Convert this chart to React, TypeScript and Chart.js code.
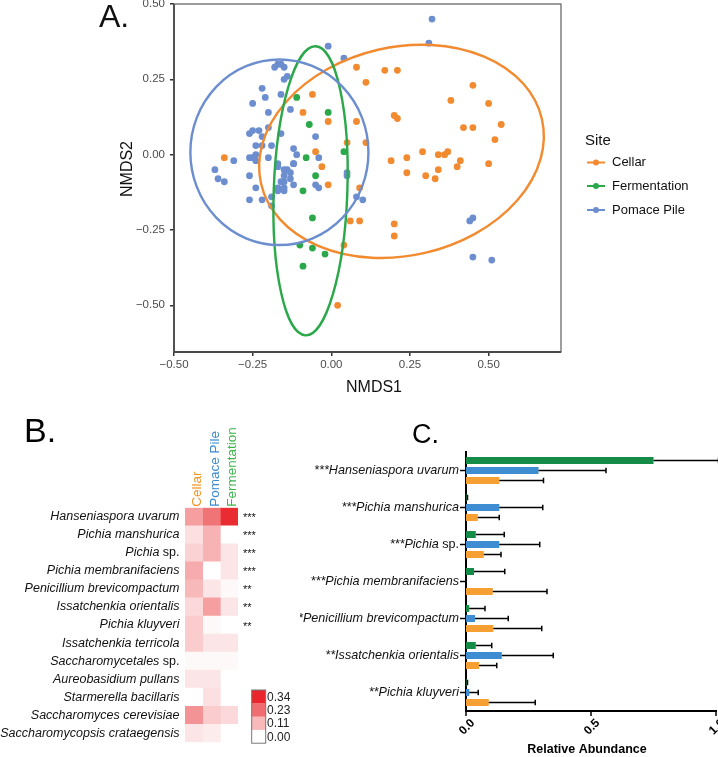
import React, { useEffect, useRef } from "react";
import { Chart, registerables } from "chart.js";
Chart.register(...registerables);

const FONT = "'Liberation Sans', Arial, Helvetica, sans-serif";

// ---------- Panel A: NMDS ----------
const siteNames = ["Cellar", "Fermentation", "Pomace Pile"];
const siteColors = ["#F28A30", "#2BA84A", "#6C8ECF"];
const cellarPoints = [
  [-0.34, -0.01], [-0.06, 0.2], [-0.09, 0.14], [-0.01, 0.11], [0.08, 0.29], [0.05, 0.04], [-0.05, 0.01],
  [-0.03, -0.04], [-0.01, -0.1], [0.08, 0.11], [0.11, 0.24], [0.11, 0.04], [0.09, -0.11], [0.06, -0.22],
  [0.09, -0.22], [0.02, -0.5], [0.04, -0.3], [0.17, 0.28], [0.21, 0.28], [0.45, 0.23], [0.38, 0.18],
  [0.5, 0.17], [0.2, 0.13], [0.21, 0.12], [0.42, 0.09], [0.45, 0.09], [0.54, 0.1], [0.52, 0.05],
  [0.29, 0.01], [0.34, 0.0], [0.36, 0.0], [0.37, 0.01], [0.41, -0.02], [0.4, -0.04], [0.19, -0.02],
  [0.24, -0.01], [0.24, -0.06], [0.3, -0.07], [0.34, -0.05], [0.33, -0.08], [0.5, -0.03], [0.2, -0.23],
  [0.2, -0.27],
];
const fermentationPoints = [
  [-0.11, 0.19], [-0.01, 0.14], [-0.07, 0.1], [0.04, 0.01], [-0.08, -0.01], [-0.05, -0.07],
  [-0.09, -0.12], [-0.06, -0.21], [-0.1, -0.3], [-0.06, -0.31], [-0.02, -0.33], [-0.09, -0.37],
];
const pomacePoints = [
  [-0.01, 0.36], [0.04, 0.32], [0.32, 0.45], [0.31, 0.37], [-0.17, 0.3], [-0.16, 0.3], [-0.18, 0.29],
  [-0.15, 0.29], [-0.14, 0.26], [-0.15, 0.25], [-0.22, 0.22], [-0.21, 0.19], [-0.16, 0.2], [-0.25, 0.17],
  [-0.13, 0.15], [-0.2, 0.14], [-0.26, 0.07], [-0.25, 0.08], [-0.23, 0.08], [-0.2, 0.09], [-0.22, 0.06],
  [-0.16, 0.07], [-0.24, 0.03], [-0.22, 0.03], [-0.19, 0.03], [-0.05, 0.06], [-0.12, 0.02], [-0.11, 0.0],
  [-0.12, -0.03], [-0.04, -0.01], [-0.24, 0.0], [-0.25, -0.01], [-0.24, -0.02], [-0.2, -0.01],
  [-0.26, -0.01], [-0.31, -0.02], [-0.37, -0.05], [-0.36, -0.08], [-0.34, -0.09], [-0.26, -0.07],
  [-0.24, -0.11], [-0.26, -0.15], [-0.22, -0.15], [-0.19, -0.14], [-0.19, -0.17], [-0.17, -0.04],
  [-0.15, -0.05], [-0.14, -0.05], [-0.13, -0.06], [-0.15, -0.07], [-0.13, -0.08], [-0.16, -0.09],
  [-0.15, -0.09], [-0.17, -0.11], [-0.15, -0.11], [-0.17, -0.12], [-0.15, -0.12], [-0.12, -0.1],
  [-0.05, -0.1], [-0.04, -0.11], [0.05, -0.06], [0.05, -0.07], [0.08, -0.14], [0.1, -0.15],
  [0.44, -0.22], [0.45, -0.21], [0.45, -0.34], [0.51, -0.35], [-0.17, -0.03], [-0.12, -0.03],
];
const ellipseCenters = [[0.223, 0.011], [-0.066, -0.12], [-0.165, 0.008]];
const ellipseRadii = [[0.458, 0.346], [0.117, 0.48], [0.283, 0.308]];
const ellipseAngles = [-13, 2, 0];
const nmdsXTicks = [-0.5, -0.25, 0, 0.25, 0.5];
const nmdsYTicks = [-0.5, -0.25, 0, 0.25, 0.5];

// ---------- Panel B: heatmap ----------
const heatSpecies = [
  "Hanseniaspora uvarum", "Pichia manshurica", "Pichia sp.", "Pichia membranifaciens",
  "Penicillium brevicompactum", "Issatchenkia orientalis", "Pichia kluyveri", "Issatchenkia terricola",
  "Saccharomycetales sp.", "Aureobasidium pullans", "Starmerella bacillaris", "Saccharomyces cerevisiae",
  "Saccharomycopsis crataegensis",
];
const heatColumns = ["Cellar", "Pomace Pile", "Fermentation"];
const heatColumnColors = ["#F5921E", "#3A8BD3", "#3BB44A"];
const heatCellar = [0.15, 0.05, 0.07, 0.13, 0.11, 0.06, 0.08, 0.08, 0.01, 0.04, 0.0, 0.17, 0.04];
const heatPomace = [0.22, 0.12, 0.12, 0.0, 0.04, 0.15, 0.01, 0.04, 0.01, 0.04, 0.05, 0.08, 0.03];
const heatFermentation = [0.33, 0.0, 0.04, 0.04, 0.01, 0.04, 0.0, 0.04, 0.01, 0.0, 0.0, 0.06, 0.0];
const heatStars = ["***", "***", "***", "***", "**", "**", "**", "", "", "", "", "", ""];
const heatLegendTicks = [0.34, 0.23, 0.11, 0.0];
const HEAT_MAX = 0.34;

// ---------- Panel C: relative abundance ----------
const abundSpecies = [
  "Hanseniaspora uvarum", "Pichia manshurica", "Pichia sp.", "Pichia membranifaciens",
  "Penicillium brevicompactum", "Issatchenkia orientalis", "Pichia kluyveri",
];
const abundStars = ["***", "***", "***", "***", "**", "**", "**"];
const abundSeries = ["Fermentation", "Pomace Pile", "Cellar"];
const abundColors = ["#148C47", "#3E8DD2", "#F6A033"];
const fermMean = [0.75, 0.003, 0.039, 0.032, 0.013, 0.039, 0.003];
const fermErr = [0.26, 0.003, 0.114, 0.123, 0.063, 0.064, 0.003];
const pomaceMean = [0.29, 0.133, 0.133, 0.0, 0.036, 0.143, 0.013];
const pomaceErr = [0.27, 0.174, 0.162, 0.0, 0.133, 0.206, 0.036];
const cellarMean = [0.133, 0.047, 0.071, 0.107, 0.109, 0.052, 0.091];
const cellarErr = [0.177, 0.086, 0.069, 0.217, 0.194, 0.071, 0.186];
const abundXTicks = [0, 0.5, 1.0];

function heatColor(v: number) {
  const t = Math.max(0, Math.min(1, v / HEAT_MAX));
  const r = Math.round(255 + (232 - 255) * t);
  const g = Math.round(255 + (38 - 255) * t);
  const b = Math.round(255 + (43 - 255) * t);
  return `rgb(${r},${g},${b})`;
}

function fmtNmds(v: number) {
  const s = Math.abs(v).toFixed(2);
  return v < -1e-9 ? "\u2212" + s : s;
}

function drawMixedLabel(ctx: CanvasRenderingContext2D, prefix: string, name: string, xRight: number, y: number, size: number) {
  const italic = `italic ${size}px ${FONT}`;
  const normal = `${size}px ${FONT}`;
  let it = name;
  let up = "";
  if (name.endsWith(" sp.")) {
    it = name.slice(0, -4);
    up = " sp.";
  }
  ctx.font = italic;
  const wp = ctx.measureText(prefix).width;
  const wi = ctx.measureText(it).width;
  ctx.font = normal;
  const wu = ctx.measureText(up).width;
  let x0 = xRight - wp - wi - wu;
  ctx.textAlign = "left";
  ctx.textBaseline = "middle";
  ctx.fillStyle = "#111";
  ctx.font = italic;
  ctx.fillText(prefix, x0, y);
  x0 += wp;
  ctx.fillText(it, x0, y);
  x0 += wi;
  ctx.font = normal;
  ctx.fillText(up, x0, y);
}

function makeA(canvas: HTMLCanvasElement) {
  const sets = [cellarPoints, fermentationPoints, pomacePoints];
  const plugin = {
    id: "panelA",
    afterDatasetsDraw(chart: any) {
      const { ctx, scales } = chart;
      const xs = scales.x, ys = scales.y;
      ctx.save();
      ellipseCenters.forEach((c, i) => {
        const cx = xs.getPixelForValue(c[0]);
        const cy = ys.getPixelForValue(c[1]);
        const rx = Math.abs(xs.getPixelForValue(c[0] + ellipseRadii[i][0]) - cx);
        const ry = Math.abs(ys.getPixelForValue(c[1] + ellipseRadii[i][1]) - cy);
        ctx.beginPath();
        ctx.ellipse(cx, cy, rx, ry, (ellipseAngles[i] * Math.PI) / 180, 0, Math.PI * 2);
        ctx.strokeStyle = siteColors[i];
        ctx.lineWidth = 2.4;
        ctx.stroke();
      });
      ctx.restore();
    },
    afterDraw(chart: any) {
      const { ctx, chartArea: a } = chart;
      ctx.save();
      ctx.strokeStyle = "#6a6a6a";
      ctx.lineWidth = 1.3;
      ctx.strokeRect(a.left, a.top, a.right - a.left, a.bottom - a.top);
      ctx.strokeStyle = "#4a4a4a";
      ctx.lineWidth = 1.8;
      ctx.beginPath();
      ctx.moveTo(a.left, a.top);
      ctx.lineTo(a.left, a.bottom);
      ctx.lineTo(a.right, a.bottom);
      ctx.stroke();
      ctx.fillStyle = "#111";
      ctx.font = `16px ${FONT}`;
      ctx.textAlign = "center";
      ctx.textBaseline = "alphabetic";
      ctx.fillText("NMDS1", 374, 392);
      ctx.save();
      ctx.translate(132, 169);
      ctx.rotate(-Math.PI / 2);
      ctx.fillText("NMDS2", 0, 0);
      ctx.restore();
      ctx.font = `32px ${FONT}`;
      ctx.textAlign = "left";
      ctx.fillText("A.", 99, 27);
      ctx.font = `15px ${FONT}`;
      ctx.fillText("Site", 585, 145);
      const ly = [162.5, 186, 210];
      siteNames.forEach((n, i) => {
        ctx.strokeStyle = siteColors[i];
        ctx.lineWidth = 2;
        ctx.beginPath();
        ctx.moveTo(587, ly[i]);
        ctx.lineTo(605, ly[i]);
        ctx.stroke();
        ctx.fillStyle = siteColors[i];
        ctx.beginPath();
        ctx.arc(596, ly[i], 3, 0, Math.PI * 2);
        ctx.fill();
        ctx.fillStyle = "#111";
        ctx.font = `13px ${FONT}`;
        ctx.textBaseline = "middle";
        ctx.fillText(n, 612, ly[i]);
      });
      ctx.restore();
    },
  };
  return new Chart(canvas, {
    type: "scatter",
    data: {
      datasets: sets.map((pts, i) => ({
        label: siteNames[i],
        data: pts.map(([x, y]) => ({ x, y })),
        backgroundColor: siteColors[i],
        borderWidth: 0,
        pointRadius: 3.4,
        pointHoverRadius: 3.4,
      })),
    },
    options: {
      animation: false,
      responsive: false,
      events: [],
      layout: { padding: { left: 0, top: 4, right: 157, bottom: 0 } },
      plugins: { legend: { display: false }, tooltip: { enabled: false } },
      scales: {
        x: {
          type: "linear",
          min: -0.5,
          max: 0.73,
          afterBuildTicks: (s: any) => { s.ticks = nmdsXTicks.map((v) => ({ value: v })); },
          afterFit: (s: any) => { s.height = 48; s.paddingLeft = 0; s.paddingRight = 0; },
          grid: { drawOnChartArea: false, drawTicks: true, tickLength: 4, color: "#333", lineWidth: 1.5 },
          border: { display: false },
          ticks: { autoSkip: false, maxRotation: 0, padding: 2, color: "#4d4d4d", font: { size: 11.5, family: FONT }, callback: (v: any) => fmtNmds(Number(v)) },
        },
        y: {
          type: "linear",
          min: -0.655,
          max: 0.5,
          afterBuildTicks: (s: any) => { s.ticks = nmdsYTicks.map((v) => ({ value: v })); },
          afterFit: (s: any) => { s.width = 174; s.paddingTop = 0; s.paddingBottom = 0; },
          grid: { drawOnChartArea: false, drawTicks: true, tickLength: 4, color: "#333", lineWidth: 1.5 },
          border: { display: false },
          ticks: { autoSkip: false, padding: 5, color: "#4d4d4d", font: { size: 11.5, family: FONT }, callback: (v: any) => fmtNmds(Number(v)) },
        },
      },
    },
    plugins: [plugin],
  } as any);
}

function makeB(canvas: HTMLCanvasElement) {
  const cols = [heatCellar, heatPomace, heatFermentation];
  const plugin = {
    id: "panelB",
    afterDraw(chart: any) {
      const { ctx, scales } = chart;
      const xs = scales.x, ys = scales.y;
      ctx.save();
      heatSpecies.forEach((n, i) => {
        const y = ys.getPixelForValue(i);
        drawMixedLabel(ctx, "", n, 179.5, y, 12.5);
        if (heatStars[i]) {
          ctx.font = `11px ${FONT}`;
          ctx.textAlign = "left";
          ctx.textBaseline = "alphabetic";
          ctx.fillStyle = "#111";
          ctx.fillText(heatStars[i], 243, y + 4.5);
        }
      });
      const top = chart.chartArea.top;
      heatColumns.forEach((c, j) => {
        const x = xs.getPixelForValue(j + 0.5);
        ctx.save();
        ctx.translate(x + 7.3, top - 1);
        ctx.rotate(-Math.PI / 2);
        ctx.font = `13.5px ${FONT}`;
        ctx.fillStyle = heatColumnColors[j];
        ctx.textAlign = "left";
        ctx.textBaseline = "alphabetic";
        ctx.fillText(c, 0, 0);
        ctx.restore();
      });
      const lx = 251.7, lw = 14, ly0 = 290, bh = 13.3;
      heatLegendTicks.forEach((v, k) => {
        ctx.fillStyle = heatColor(v);
        ctx.fillRect(lx, ly0 + k * bh, lw, bh + 0.3);
        ctx.fillStyle = "#222";
        ctx.font = `12px ${FONT}`;
        ctx.textAlign = "left";
        ctx.textBaseline = "middle";
        ctx.fillText(v.toFixed(2), 267, ly0 + k * bh + bh * 0.55);
      });
      ctx.strokeStyle = "#777";
      ctx.lineWidth = 1;
      ctx.strokeRect(lx, ly0, lw, bh * 4);
      ctx.fillStyle = "#000";
      ctx.font = `34px ${FONT}`;
      ctx.textAlign = "left";
      ctx.textBaseline = "alphabetic";
      ctx.fillText("B.", 24, 42);
      ctx.restore();
    },
  };
  return new Chart(canvas, {
    type: "bar",
    data: {
      labels: heatSpecies,
      datasets: cols.map((vals, j) => ({
        label: heatColumns[j],
        data: vals.map(() => 1),
        backgroundColor: vals.map(heatColor),
        borderWidth: 0,
        barPercentage: 1,
        categoryPercentage: 1,
        stack: "h",
      })),
    },
    options: {
      animation: false,
      responsive: false,
      events: [],
      indexAxis: "y",
      layout: { padding: { left: 185, right: 62, top: 107.7, bottom: 14.7 } },
      plugins: { legend: { display: false }, tooltip: { enabled: false } },
      scales: {
        x: { type: "linear", min: 0, max: 3, stacked: true, display: false },
        y: { stacked: true, display: false },
      },
    },
    plugins: [plugin],
  } as any);
}

function makeC(canvas: HTMLCanvasElement) {
  const means = [fermMean, pomaceMean, cellarMean];
  const errs = [fermErr, pomaceErr, cellarErr];
  const plugin = {
    id: "panelC",
    afterDraw(chart: any) {
      const { ctx, scales, chartArea: a } = chart;
      const xs = scales.x, ys = scales.y;
      ctx.save();
      ctx.strokeStyle = "#000";
      ctx.lineWidth = 1.5;
      means.forEach((m, d) => {
        const meta = chart.getDatasetMeta(d);
        meta.data.forEach((bar: any, i: number) => {
          const y = bar.y;
          const x0 = xs.getPixelForValue(m[i]);
          const x1 = xs.getPixelForValue(m[i] + errs[d][i]);
          if (x1 - x0 < 0.5 && m[i] === 0) return;
          ctx.beginPath();
          ctx.moveTo(x0, y);
          ctx.lineTo(x1, y);
          ctx.moveTo(x1, y - 2.8);
          ctx.lineTo(x1, y + 2.8);
          ctx.stroke();
        });
      });
      abundSpecies.forEach((n, i) => {
        const y = ys.getPixelForValue(i);
        drawMixedLabel(ctx, abundStars[i], n, a.left - 7, y, 12.6);
        ctx.strokeStyle = "#000";
        ctx.lineWidth = 1.5;
        ctx.beginPath();
        ctx.moveTo(a.left - 6, y);
        ctx.lineTo(a.left, y);
        ctx.stroke();
      });
      abundXTicks.forEach((v) => {
        const x = xs.getPixelForValue(v);
        ctx.strokeStyle = "#000";
        ctx.lineWidth = 1.5;
        ctx.beginPath();
        ctx.moveTo(x, a.bottom);
        ctx.lineTo(x, a.bottom + 5);
        ctx.stroke();
        ctx.save();
        ctx.translate(x + 1, a.bottom + 16);
        ctx.rotate(-Math.PI / 4);
        ctx.font = `bold 12px ${FONT}`;
        ctx.fillStyle = "#000";
        ctx.textAlign = "center";
        ctx.textBaseline = "middle";
        ctx.fillText(v.toFixed(1), 0, 0);
        ctx.restore();
      });
      ctx.font = `bold 12.5px ${FONT}`;
      ctx.fillStyle = "#000";
      ctx.textAlign = "center";
      ctx.textBaseline = "middle";
      ctx.fillText("Relative Abundance", 287, 350);
      ctx.font = `27px ${FONT}`;
      ctx.textAlign = "left";
      ctx.textBaseline = "alphabetic";
      ctx.fillText("C.", 112, 43);
      ctx.restore();
    },
  };
  return new Chart(canvas, {
    type: "bar",
    data: {
      labels: abundSpecies,
      datasets: means.map((m, d) => ({
        label: abundSeries[d],
        data: m,
        backgroundColor: abundColors[d],
        borderWidth: 0,
        barPercentage: 0.7,
        categoryPercentage: 0.81,
      })),
    },
    options: {
      animation: false,
      responsive: false,
      events: [],
      indexAxis: "y",
      layout: { padding: { left: 166, right: 2, top: 52, bottom: 0 } },
      plugins: { legend: { display: false }, tooltip: { enabled: false } },
      scales: {
        x: {
          type: "linear",
          min: 0,
          max: 1,
          afterFit: (s: any) => { s.height = 46; s.paddingLeft = 0; s.paddingRight = 0; },
          grid: { display: false },
          ticks: { display: false },
          border: { display: true, color: "#000", width: 2 },
        },
        y: {
          afterFit: (s: any) => { s.width = 0; s.paddingTop = 0; s.paddingBottom = 0; },
          grid: { display: false },
          ticks: { display: false },
          border: { display: true, color: "#000", width: 2 },
        },
      },
    },
    plugins: [plugin],
  } as any);
}

export default function App() {
  const aRef = useRef<HTMLCanvasElement>(null);
  const bRef = useRef<HTMLCanvasElement>(null);
  const cRef = useRef<HTMLCanvasElement>(null);
  useEffect(() => {
    const charts = [makeA(aRef.current!), makeB(bRef.current!), makeC(cRef.current!)];
    return () => charts.forEach((c) => c.destroy());
  }, []);
  return (
    <div style={{ position: "absolute", left: 0, top: 0, width: 718, height: 757, background: "#fff", overflow: "hidden" }}>
      <canvas ref={aRef} width={718} height={400} style={{ position: "absolute", left: 0, top: 0 }} />
      <canvas ref={bRef} width={300} height={357} style={{ position: "absolute", left: 0, top: 400 }} />
      <canvas ref={cRef} width={418} height={357} style={{ position: "absolute", left: 300, top: 400 }} />
    </div>
  );
}
